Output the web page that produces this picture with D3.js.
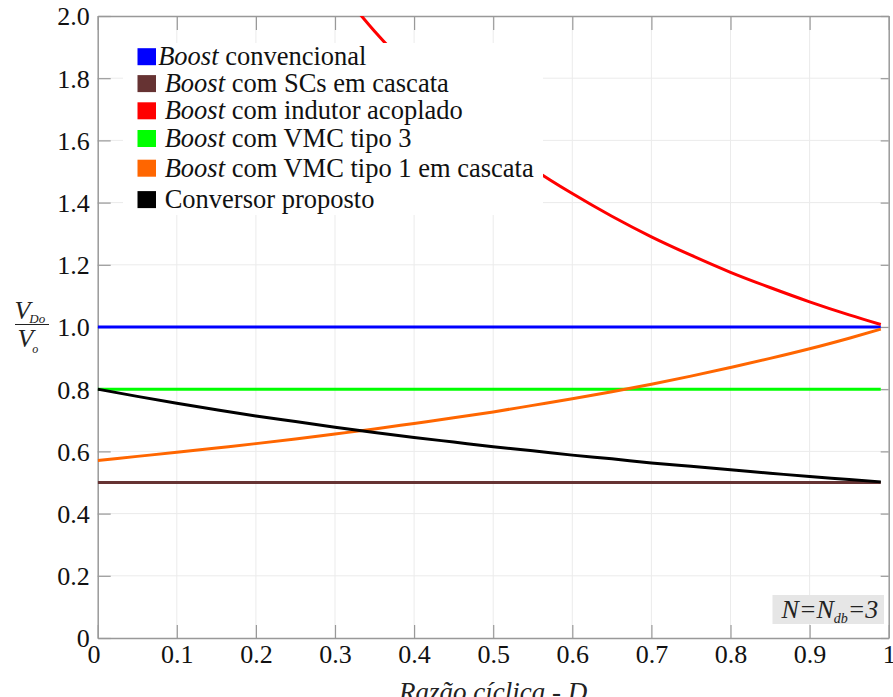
<!DOCTYPE html>
<html>
<head>
<meta charset="utf-8">
<script src="https://cdn.jsdelivr.net/npm/d3@7"></script>
<style>
  @font-face { font-family: 'SerifLocal'; font-style: normal; src: local('Liberation Serif'), local('LiberationSerif'); }
  @font-face { font-family: 'SerifLocal'; font-style: italic; src: local('Liberation Serif Italic'), local('LiberationSerif-Italic'); }
  html, body { margin: 0; padding: 0; background: #fff; }
  #chart, #chart text, #chart tspan { font-family: 'Liberation Serif', 'SerifLocal', 'DejaVu Serif', serif; }
</style>
</head>
<body>
<svg id="chart" width="893" height="697" font-family="Liberation Serif"></svg>
<script>
// Duty cycle samples (D) used by the curved series
const dutyCycle = [0, 0.05, 0.10, 0.15, 0.20, 0.25, 0.30, 0.35, 0.40, 0.45, 0.50,
                   0.55, 0.60, 0.65, 0.70, 0.75, 0.80, 0.85, 0.90, 0.95, 0.99];

// Normalised diode voltage stress V_Do / V_o for each topology
const boostConvencional = [[0, 1.0], [0.99, 1.0]];
const boostSCsCascata = [[0, 0.5], [0.99, 0.5]];
const boostIndutorAcopladoD = [0.30, 0.35, 0.40, 0.45, 0.50, 0.55, 0.60, 0.65, 0.70, 0.75, 0.80, 0.85, 0.90, 0.95, 0.99];
const boostIndutorAcoplado = [2.105, 1.951, 1.818, 1.702, 1.600, 1.509, 1.429, 1.356, 1.290, 1.231, 1.176, 1.127, 1.081, 1.039, 1.008];
const boostVMC3 = [[0, 0.8], [0.99, 0.8]];
const boostVMC1Cascata = [0.571, 0.584, 0.597, 0.611, 0.625, 0.640, 0.656, 0.672, 0.690, 0.708, 0.727,
                          0.748, 0.769, 0.792, 0.816, 0.842, 0.870, 0.899, 0.930, 0.964, 0.993];
const conversorProposto = [0.800, 0.777, 0.755, 0.734, 0.714, 0.696, 0.678, 0.661, 0.645, 0.630, 0.615,
                           0.602, 0.588, 0.576, 0.563, 0.552, 0.541, 0.530, 0.519, 0.510, 0.502];

// Tick values
const xTicks = [0, 0.1, 0.2, 0.3, 0.4, 0.5, 0.6, 0.7, 0.8, 0.9, 1];
const yTicks = [0, 0.2, 0.4, 0.6, 0.8, 1.0, 1.2, 1.4, 1.6, 1.8, 2.0];

// Legend entries (italic prefix + regular text)
const legendNames = ["convencional", "com SCs em cascata", "com indutor acoplado",
                     "com VMC tipo 3", "com VMC tipo 1 em cascata", "Conversor proposto"];
const legendColors = ["#0000ff", "#663333", "#ff0000", "#00ff00", "#ff6600", "#000000"];

const series = [
  { color: legendColors[0], pts: boostConvencional },
  { color: legendColors[1], pts: boostSCsCascata },
  { color: legendColors[2], pts: boostIndutorAcopladoD.map((d, i) => [d, boostIndutorAcoplado[i]]) },
  { color: legendColors[3], pts: boostVMC3 },
  { color: legendColors[4], pts: dutyCycle.map((d, i) => [d, boostVMC1Cascata[i]]) },
  { color: legendColors[5], pts: dutyCycle.map((d, i) => [d, conversorProposto[i]]) }
];

const FONT_ATTR = "Liberation Serif";
const FONT_CSS = "'Liberation Serif', 'SerifLocal', 'DejaVu Serif', serif";
const serifText = sel => sel.attr("font-family", FONT_ATTR).style("font-family", FONT_CSS);

const svg = d3.select("#chart");
const W = 893, H = 697;
const m = { left: 97.7, right: 4.3, top: 16, bottom: 59 };
const x = d3.scaleLinear().domain([0, 1]).range([m.left, W - m.right]);
const y = d3.scaleLinear().domain([0, 2]).range([H - m.bottom, m.top]);

const axisColor = "#999999";
const gridColor = "#ebebeb";

// Grid
const grid = svg.append("g");
grid.selectAll("line.gx").data(xTicks.slice(1, -1)).join("line")
  .attr("x1", d => x(d)).attr("x2", d => x(d))
  .attr("y1", y(0)).attr("y2", y(2))
  .attr("stroke", gridColor).attr("stroke-width", 1);
grid.selectAll("line.gy").data(yTicks.slice(1, -1)).join("line")
  .attr("y1", d => y(d)).attr("y2", d => y(d))
  .attr("x1", x(0)).attr("x2", x(1))
  .attr("stroke", gridColor).attr("stroke-width", 1);

// Axes with inward ticks on all four sides
const fmtX = d => (d === 0 || d === 1) ? String(d) : d.toFixed(1);
const fmtY = d => d === 0 ? "0" : d.toFixed(1);

const axB = svg.append("g").attr("transform", `translate(0,${y(0)})`)
  .call(d3.axisBottom(x).tickValues(xTicks).tickSizeInner(-13).tickSizeOuter(0).tickPadding(25).tickFormat(fmtX));
const axT = svg.append("g").attr("transform", `translate(0,${y(2)})`)
  .call(d3.axisTop(x).tickValues(xTicks).tickSizeInner(-14).tickSizeOuter(0).tickFormat(""));
const axL = svg.append("g").attr("transform", `translate(${x(0)},0)`)
  .call(d3.axisLeft(y).tickValues(yTicks).tickSizeInner(-13).tickSizeOuter(0).tickPadding(8).tickFormat(fmtY));
const axR = svg.append("g").attr("transform", `translate(${x(1)},0)`)
  .call(d3.axisRight(y).tickValues(yTicks).tickSizeInner(-8).tickSizeOuter(0).tickFormat(""));

[axB, axT, axL, axR].forEach(a => {
  a.attr("font-family", FONT_ATTR).attr("font-size", 26);
  a.select(".domain").attr("stroke", axisColor).attr("stroke-width", 1.5);
  a.selectAll(".tick line").attr("stroke", axisColor).attr("stroke-width", 1.2);
  serifText(a.selectAll("text")).attr("font-size", 26).attr("fill", "#111");
});
axB.selectAll("text").attr("dy", 0).attr("y", 25.2);
axB.selectAll(".tick").filter(d => d === 0).select("text").attr("dx", -4.2);
axL.selectAll("text").attr("x", -8).attr("dy", "0.34em");

// Curves
const clipId = "plotClip";
svg.append("clipPath").attr("id", clipId).append("rect")
  .attr("x", x(0)).attr("y", y(2)).attr("width", x(1) - x(0)).attr("height", y(0) - y(2));

const line = d3.line().x(d => x(d[0])).y(d => y(d[1])).curve(d3.curveMonotoneX);
svg.append("g").attr("clip-path", `url(#${clipId})`)
  .selectAll("path").data(series).join("path")
  .attr("d", d => line(d.pts))
  .attr("fill", "none")
  .attr("stroke", d => d.color)
  .attr("stroke-width", 3)
  .attr("stroke-linejoin", "round");

// Legend
const legend = svg.append("g").attr("font-family", FONT_ATTR);
legend.append("rect").attr("x", 123).attr("y", 43).attr("width", 420).attr("height", 172).attr("fill", "#fff");
const legendRowY = [65.2, 92.1, 119.3, 147.0, 176.7, 208.1];
legendNames.forEach((name, i) => {
  const base = legendRowY[i];
  legend.append("rect")
    .attr("x", 137.5).attr("y", base - 17).attr("width", 18.5).attr("height", 17)
    .attr("fill", legendColors[i]);
  const t = serifText(legend.append("text"))
    .attr("x", i === 0 ? 158.2 : 164.7).attr("y", base)
    .attr("font-size", 26.5).attr("fill", "#111");
  if (i < 5) {
    serifText(t.append("tspan")).attr("font-style", "italic").text("Boost");
    serifText(t.append("tspan")).text(" " + name);
  } else {
    t.text(name);
  }
});

// Y axis label: V_Do / V_o
const yl = svg.append("g").attr("fill", "#222");
const num = serifText(yl.append("text")).attr("x", 14.4).attr("y", 319.4)
  .attr("font-size", 26).attr("font-style", "italic");
num.append("tspan").text("V");
num.append("tspan").attr("font-size", 13).attr("dy", 4).attr("dx", -1).text("Do");
yl.append("line").attr("x1", 15).attr("x2", 49).attr("y1", 324.5).attr("y2", 324.5)
  .attr("stroke", "#222").attr("stroke-width", 1.2);
const den = serifText(yl.append("text")).attr("x", 17.4).attr("y", 347.2)
  .attr("font-size", 26).attr("font-style", "italic");
den.append("tspan").text("V");
den.append("tspan").attr("font-size", 12).attr("dy", 6).attr("dx", -1).text("o");

// X axis label
serifText(svg.append("text")).attr("x", 493.2).attr("y", 701.4).attr("text-anchor", "middle")
  .attr("font-size", 27).attr("font-style", "italic").attr("fill", "#222")
  .text("Razão cíclica - D");

// Parameter annotation
const ann = svg.append("g");
ann.append("rect").attr("x", 772.5).attr("y", 595).attr("width", 111.5).attr("height", 29).attr("fill", "#e6e6e6");
const at = serifText(ann.append("text")).attr("x", 781.6).attr("y", 618.3)
  .attr("font-size", 26).attr("font-style", "italic").attr("fill", "#222");
at.append("tspan").text("N=N");
at.append("tspan").attr("font-size", 14).attr("dy", 5).text("db");
at.append("tspan").attr("dy", -5).text("=3");
</script>
</body>
</html>
